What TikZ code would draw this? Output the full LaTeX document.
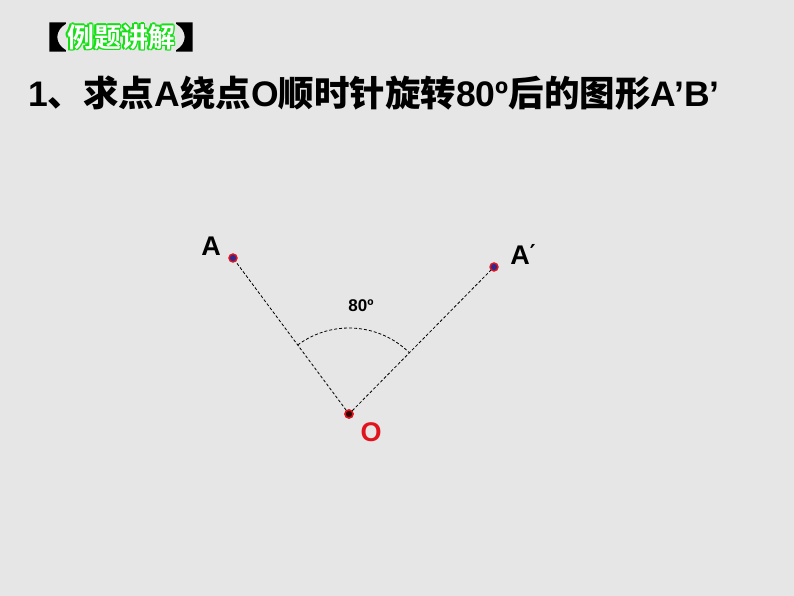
\documentclass[tikz,border=0pt]{standalone}
\usepackage{fontspec}
\setmainfont{Liberation Sans}
\newfontfamily\cjkb{Noto Sans CJK SC Bold}
\newfontfamily\dejavu{DejaVu Sans}
\usetikzlibrary{calc,positioning}
\newcommand\zh[1]{{\cjkb #1}}
\newcommand\thickglyph[1]{\special{pdf:code q 2 Tr 2 w 0 0 0 RG}#1\special{pdf:code 0 Tr Q}}
\definecolor{bgray}{RGB}{230,230,230}
\definecolor{ptblue}{RGB}{50,40,140}
\definecolor{ptred}{RGB}{225,20,30}
\definecolor{hgreen}{RGB}{20,225,20}
\begin{document}
\begin{tikzpicture}[x=1pt,y=-1pt,
    pt/.style = {shape = circle,
                 fill = ptblue,
                 draw = ptred,
                 line width = 1.4pt,
                 inner sep = 0pt,
                 minimum size = 8pt},
    lbl/.style = {font=\fontsize{27}{27}\selectfont\bfseries, inner sep=0pt},
    hdr/.style = {font=\fontsize{27}{27}\selectfont\cjkb, inner sep=0pt},
    brk/.style = {font=\fontsize{29}{29}\selectfont\cjkb, inner sep=0pt},
    ray/.style = {dashed, dash pattern=on 3pt off 2pt, line width=0.8pt}]
  \fill[bgray] (0,0) rectangle (794,596);
  \useasboundingbox (0,0) rectangle (794,596);
  % header
  \coordinate (h) at (121,37);
  \foreach \a in {0,45,...,315}
    \node[hdr, text=hgreen] at ($(h)+(\a:1.6)$) {例题讲解};
  \node[hdr, text=white] (hdr) at (h) {例题讲解};
  \node[brk, left=1pt of hdr] (lb) {\scalebox{1.5}[1]{\thickglyph{【}}};
  \node[brk, right=1pt of hdr] (rb) {\scalebox{1.5}[1]{\thickglyph{】}}};
  % title
  \node[anchor=base west, inner sep=0pt,
        font=\fontsize{35.5}{35.5}\selectfont\bfseries] (title) at (28,107)
    {1\zh{、求点}A\zh{绕点}O\zh{顺时针旋转}80º\zh{后的图形}A’B’};
  % points
  \node[pt] (O) at (349,414) {};
  \node[pt] (A) at (233,258) {};
  \node[pt] (A1) at (494,267) {};
  \node[pt, fill=black!80!red] at (O) {};
  \path[ray] (O) edge (A);
  \path[ray] (O) edge (A1);
  \draw[ray] (O) ++(-126.6:86) arc[start angle=-126.6, end angle=-45.4, radius=86];
  % labels
  \node[lbl] (la) at (211,246) {A};
  \node[lbl] (la1) at (523,254) {A\raisebox{4pt}{\fontsize{22}{22}\selectfont\dejavu ′}};
  \node[lbl, text=ptred] (lo) at (371,432) {O};
  \node[lbl, font=\fontsize{17}{17}\selectfont\bfseries] (ang) at (361,306) {80º};
\end{tikzpicture}
\end{document}
